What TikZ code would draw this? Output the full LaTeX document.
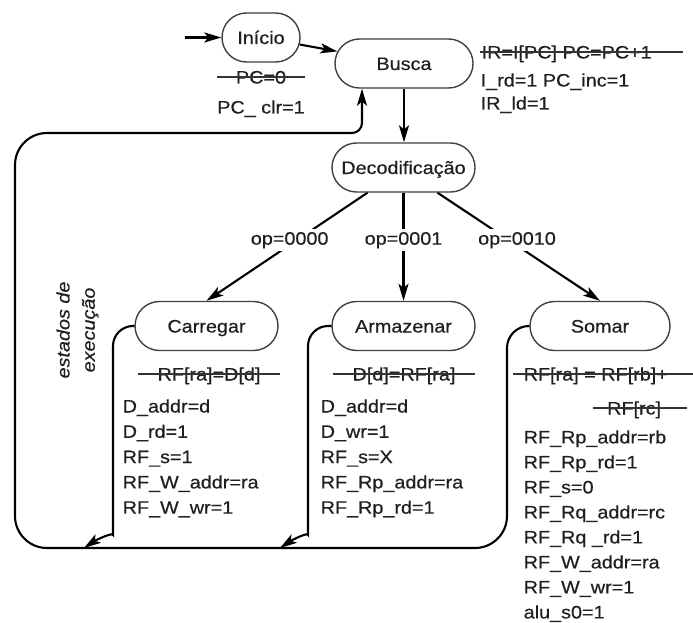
\documentclass[tikz,border=0pt]{standalone}
\usepackage{fontspec}
\setmainfont{Liberation Sans}[FakeStretch=1.1,FakeBold=0.4]
\usetikzlibrary{shapes.misc,arrows.meta}
\begin{document}
\begin{tikzpicture}[x=1pt,y=-1pt,
  every node/.style={font=\fontsize{18}{25.3}\selectfont, inner sep=0pt, text=black!88},
  state/.style={rounded rectangle, draw=black!75, line width=1.4pt, fill=white,
    minimum height=49pt, inner sep=0pt, text height=13pt, text depth=0pt},
  conn/.style={line width=2.1pt, -{Stealth[length=17pt,width=10pt,inset=4pt]}},
  lbl/.style={fill=white, inner sep=3pt},
  stk/.style={text height=13pt, text depth=0pt, anchor=center},
  txt/.style={anchor=base west},
  strike/.style={line width=1.3pt, black!80},
]
\useasboundingbox[fill=white] (0,0) rectangle (693,623);

% states
\node[state, minimum width=78pt]  (ini) at (261,37.5) {Início};
\node[state, minimum width=138pt] (bus) at (404,63.5) {Busca};
\node[state, minimum width=143pt] (dec) at (403.5,167.5) {Decodificação};
\node[state, minimum width=143pt] (car) at (206.5,326) {Carregar};
\node[state, minimum width=143pt] (arm) at (403.5,326) {Armazenar};
\node[state, minimum width=140pt] (som) at (600,326) {Somar};

% Inicio actions
\node[stk, minimum width=88pt] (pc0) at (261,77) {PC=0};
\draw[strike] (pc0.west) -- (pc0.east);
\node[stk] (pcclr) at (261,107) {PC\_ clr=1};

% Busca actions
\node[stk, anchor=west] (b0) at (481.5,52) {IR=I[PC] PC=PC+1};
\draw[strike] ([xshift=-2pt]b0.west) -- ++(203,0);
\node[txt] (b1) at (480.5,86.5) {I\_rd=1 PC\_inc=1};
\node[txt] (b2) at (480.5,109.5) {IR\_ld=1};

% Carregar actions
\node[stk, minimum width=142pt] (c0) at (209,374) {RF[ra]=D[d]};
\draw[strike] (c0.west) -- (c0.east);
\foreach \t [count=\i from 0] in {D\_addr=d, D\_rd=1, RF\_s=1, RF\_W\_addr=ra, RF\_W\_wr=1}
  \node[txt] (cl\i) at (122.5,{412.5+25.3*\i}) {\t};

% Armazenar actions
\node[stk, minimum width=142pt] (a0) at (404,374) {D[d]=RF[ra]};
\draw[strike] (a0.west) -- (a0.east);
\foreach \t [count=\i from 0] in {D\_addr=d, D\_wr=1, RF\_s=X, RF\_Rp\_addr=ra, RF\_Rp\_rd=1}
  \node[txt] (al\i) at (320.5,{412.5+25.3*\i}) {\t};

% Somar actions
\node[stk, anchor=west] (s0) at (523.5,374) {RF[ra] = RF[rb]+};
\draw[strike] ([xshift=-11pt]s0.west) -- ++(181,0);
\node[stk, anchor=west] (s1) at (607,408) {RF[rc]};
\draw[strike] ([xshift=-14pt]s1.west) -- ++(94,0);
\foreach \t [count=\i from 0] in {RF\_Rp\_addr=rb, RF\_Rp\_rd=1, RF\_s=0, RF\_Rq\_addr=rc, RF\_Rq \_rd=1, RF\_W\_addr=ra, RF\_W\_wr=1, alu\_s0=1}
  \node[txt] (sl\i) at (523.5,{443.4+25*\i}) {\t};

% side label
\node[align=center, rotate=90, font=\fontsize{18}{25.3}\selectfont\itshape] (exe) at (77.5,330) {estados de\\execução};

% connectors
\coordinate (entry) at (185,37.5);
\draw[conn] (entry) -- (ini.west);
\draw[conn] (ini) -- (bus);
\draw[conn] (bus.south) -- (bus.south |- dec.north);
\draw[conn] ([xshift=-36pt]dec.south) -- node[lbl, pos=0.44, xshift=-7pt] (l0) {op=0000} (car.north);
\draw[conn] (dec.south) -- node[lbl, pos=0.44] (l1) {op=0001} (arm.north);
\draw[conn] ([xshift=34pt]dec.south) -- node[lbl, pos=0.44, xshift=8pt] (l2) {op=0010} (som.north);

% return loop
\coordinate (r1) at (507,326);
\coordinate (r2) at (507,548);
\coordinate (r3) at (15,548);
\coordinate (r4) at (15,133);
\coordinate (r5) at (362,133);
\draw[conn, rounded corners=22pt] (som.west) -- (r1) [rounded corners=32pt] -- (r2) -- (r3) -- (r4) [rounded corners=10pt] -- (r5) -- ([xshift=-42pt]bus.south);

% Carregar / Armazenar exits
\coordinate (c1) at (113,326);
\coordinate (c2) at (113,515);
\coordinate (ct) at (84,548);
\draw[conn, rounded corners=20pt] (car.west) -- (c1) -- (c2) [sharp corners] .. controls (113,532) and (96,540) .. (ct);
\coordinate (a1) at (308,326);
\coordinate (a2) at (308,515);
\coordinate (at) at (280,548);
\draw[conn, rounded corners=20pt] (arm.west) -- (a1) -- (a2) [sharp corners] .. controls (308,532) and (292,540) .. (at);
\end{tikzpicture}
\end{document}
